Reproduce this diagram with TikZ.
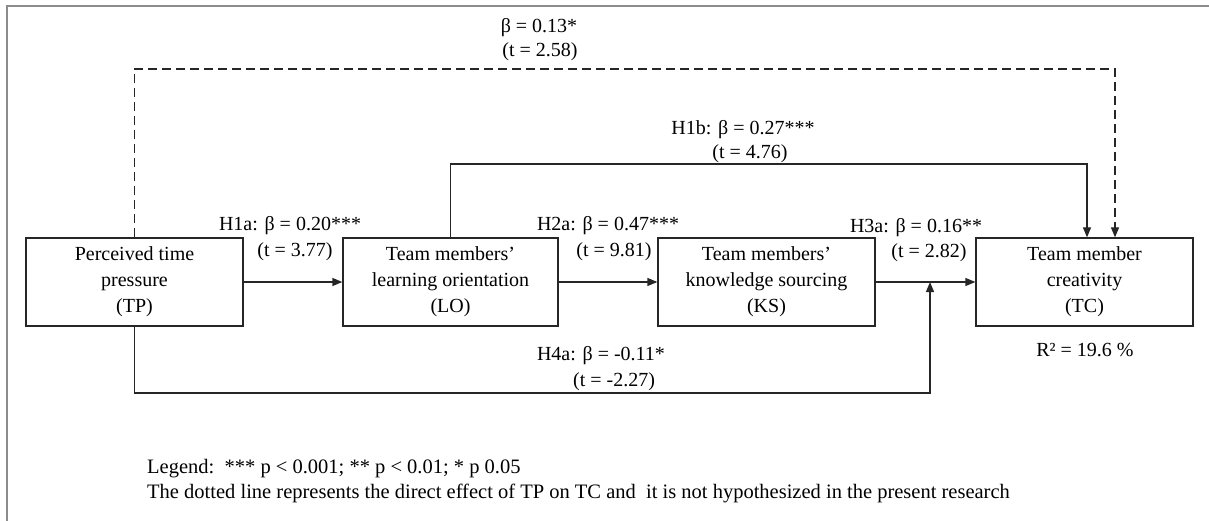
\documentclass[tikz,border=0pt]{standalone}
\usepackage{fontspec}
\setmainfont{Liberation Serif}
\usetikzlibrary{arrows.meta}
\begin{document}
\begin{tikzpicture}[x=1pt,y=-1pt,
  box/.style={draw=black!85, line width=1.3pt, minimum width=217pt, minimum height=88pt, align=center, inner sep=0pt, font=\fontsize{20}{26}\selectfont},
  lab/.style={anchor=base, inner sep=0pt, font=\fontsize{20}{24}\selectfont},
  legendtext/.style={anchor=base west, inner sep=0pt, font=\fontsize{20.5}{24}\selectfont},
  link/.style={draw=black!85, line width=1.3pt},
  tip/.style={-{Triangle[length=10pt,width=8pt]}}]
\useasboundingbox (0,0) rectangle (1209,521);
\draw[black!45, line width=2pt] (7,521) -- (7,6) -- (1209,6);

\node[box] (TP) at (134.5,282) {Perceived time\\pressure\\(TP)};
\node[box, minimum width=215pt] (LO) at (450.5,282) {Team members’\\learning orientation\\(LO)};
\node[box] (KS) at (766.5,282) {Team members’\\knowledge sourcing\\(KS)};
\node[box] (TC) at (1084.5,282) {Team member\\creativity\\(TC)};

\draw[link,tip] (TP.east) -- (LO.west);
\draw[link,tip] (LO.east) -- (KS.west);
\draw[link,tip] (KS.east) -- (TC.west);
\coordinate (c1) at (1087,164);
\draw[link,tip] (LO.north) |- (c1) -- (c1 |- TC.north);
\coordinate (c2) at (1115,69);
\draw[link,tip,dash pattern=on 9pt off 5pt] (TP.north) |- (c2) -- (c2 |- TC.north);
\coordinate (c3) at (930,393);
\draw[link,tip] (TP.south) |- (c3) -- (c3 |- TC.west);

\node[lab] (b0) at (539,33) {β = 0.13*};
\node[lab] (t0) at (540,57) {(t = 2.58)};
\node[lab] (b1b) at (743,135) {H1b: β = 0.27***};
\node[lab] (t1b) at (750,159) {(t = 4.76)};
\node[lab] (b1a) at (290,231) {H1a: β = 0.20***};
\node[lab] (t1a) at (295,257) {(t = 3.77)};
\node[lab] (b2a) at (608,231) {H2a: β = 0.47***};
\node[lab] (t2a) at (614,257) {(t = 9.81)};
\node[lab] (b3a) at (916,233) {H3a: β = 0.16**};
\node[lab] (t3a) at (929,258) {(t = 2.82)};
\node[lab] (b4a) at (601,360) {H4a: β = -0.11*};
\node[lab] (t4a) at (614,386) {(t = -2.27)};
\node[lab] (r2) at (1085,356) {R² = 19.6 \%};

\node[legendtext] (lg1) at (147,473) {Legend:\ \ *** p < 0.001; ** p < 0.01; * p 0.05};
\node[legendtext] (lg2) at (147,498) {The dotted line represents the direct effect of TP on TC and\ \ it is not hypothesized in the present research};
\end{tikzpicture}
\end{document}
